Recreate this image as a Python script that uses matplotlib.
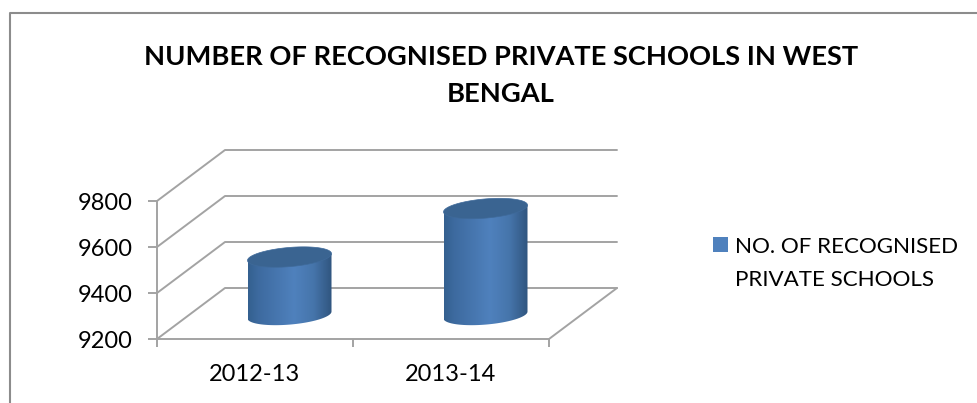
import numpy as np
import matplotlib
matplotlib.use("Agg")
import matplotlib.pyplot as plt
from matplotlib.colors import LinearSegmentedColormap
from matplotlib.legend_handler import HandlerPatch
from matplotlib.lines import Line2D
from matplotlib.patches import Patch, Polygon, Rectangle

categories = ["2012-13", "2013-14"]
school_counts = [9452, 9663]
y_ticks = [9200, 9400, 9600, 9800]
series_name = "NO. OF RECOGNISED\nPRIVATE SCHOOLS"
title = "NUMBER OF RECOGNISED PRIVATE SCHOOLS IN WEST\nBENGAL"

W, H = 977, 403
plt.rcParams["font.family"] = ["Lato", "DejaVu Sans"]
fig = plt.figure(figsize=(W / 100, H / 100), dpi=100, facecolor="white")

# Front plane of the 3D box, in pixels
left, right, bottom, top = 157, 549, 339, 201
ax = fig.add_axes([left / W, 1 - bottom / H, (right - left) / W, (bottom - top) / H])
ax.set_xlim(-0.5, 1.5)
ax.set_ylim(9200, 9800)
ax.patch.set_alpha(0)

PX_X = (right - left) / 2
PX_Y = (bottom - top) / 600
DEPTH_X, DEPTH_Y = 68, 51
GRID = "#a3a3a3"
LW = 1.4


def project(x, v, depth=0.0, px=0.0, py=0.0):
    """Map a category/value position at a box depth to data coordinates."""
    return (x + (depth * DEPTH_X + px) / PX_X, v + (depth * DEPTH_Y + py) / PX_Y)


def box_line(x, v, d):
    xs, ys = zip(*[project(a, b, c) for a, b, c in zip(x, v, d)])
    ax.plot(xs, ys, color=GRID, lw=LW, clip_on=False, zorder=1, solid_capstyle="round")


# Back wall gridlines, side wall diagonals and the floor edge
for v in y_ticks:
    box_line([-0.5, -0.5, 1.5], [v, v, v], [0, 1, 1])
box_line([1.5, 1.5], [9200, 9200], [0, 1])

# Axis spines and ticks
for side in ("top", "right"):
    ax.spines[side].set_visible(False)
for side in ("left", "bottom"):
    ax.spines[side].set_color(GRID)
    ax.spines[side].set_linewidth(LW)
ax.set_yticks(y_ticks)
ax.set_xticks([-0.5, 0.5, 1.5], labels=[])
ax.set_xticks([0, 1], labels=categories, minor=True)
ax.tick_params(axis="y", length=6.5, width=LW, color=GRID, pad=11, labelsize=17, labelcolor="black")
ax.tick_params(axis="x", which="major", length=6, width=LW, color=GRID)
ax.tick_params(axis="x", which="minor", length=0, pad=18, labelsize=17, labelcolor="black")

# Cylinders, shaded across their width
side_cmap = LinearSegmentedColormap.from_list(
    "side", [(0, "#34608f"), (0.12, "#3d6a9f"), (0.55, "#4f81bd"), (0.78, "#4675ab"), (1, "#30557f")]
)
RX, RY, TILT = 42, 9.6, 3.4
t = np.linspace(0, 2 * np.pi, 121)
ring_x = RX * np.cos(t)
ring_y = RY * np.sin(t) + TILT * np.cos(t)
for i, value in enumerate(school_counts):
    base = project(i, 9200, 0.5, 0.5, -1.5)
    head = project(i, value, 0.5, 0.5, -1.5)
    lower = t[(t >= np.pi)]
    lx = RX * np.cos(lower)
    ly = RY * np.sin(lower) + TILT * np.cos(lower)
    body = np.vstack([
        [[head[0] - RX / PX_X, head[1] - TILT / PX_Y]],
        np.column_stack([base[0] + lx / PX_X, base[1] + ly / PX_Y]),
        [[head[0] + RX / PX_X, head[1] + TILT / PX_Y]],
    ])
    shape = Polygon(body, closed=True, facecolor="none", edgecolor="none", transform=ax.transData)
    ax.add_patch(shape)
    ramp = np.linspace(0, 1, 256).reshape(1, -1)
    im = ax.imshow(
        ramp, cmap=side_cmap, aspect="auto", zorder=3,
        extent=[head[0] - RX / PX_X, head[0] + RX / PX_X,
                base[1] - (RY + 4) / PX_Y, head[1] + (RY + 4) / PX_Y],
    )
    im.set_clip_box(fig.bbox)
    im.set_clip_path(shape)
    ax.add_patch(Polygon(
        np.column_stack([head[0] + ring_x / PX_X, head[1] + ring_y / PX_Y]),
        closed=True, facecolor="#3a6491", edgecolor="#3f6a9a", lw=0.5, zorder=4, clip_on=False,
    ))
ax.set_xlim(-0.5, 1.5)
ax.set_ylim(9200, 9800)

# Chart frame: only the top and left edges fall inside the canvas
frame = "#8c8c8c"
fig.add_artist(Line2D([9.5 / W, 9.5 / W, 1], [0, 1 - 13 / H, 1 - 13 / H], color=frame, lw=1.5))

fig.text(501 / W, 1 - 75.5 / H, title, ha="center", va="center", fontsize=19.6,
         fontweight="bold", linespacing=1.68, color="black")


def first_line_swatch(legend, orig_handle, xdescent, ydescent, width, height, fontsize):
    # Lift the swatch from the last text line up to the first one
    return Rectangle((-xdescent, -ydescent + 13.7), width, height)


legend = fig.legend(
    handles=[Patch(facecolor="#4f81bd", edgecolor="none")], labels=[series_name],
    loc="upper left", bbox_to_anchor=(713 / W, 1 - 237 / H), frameon=False,
    fontsize=16.1, handlelength=0.68, handleheight=0.68, handletextpad=0.31,
    labelspacing=0, borderpad=0, borderaxespad=0,
    handler_map={Patch: HandlerPatch(patch_func=first_line_swatch)},
)
for text in legend.get_texts():
    text.set_linespacing(1.8)

fig.savefig("out.png", dpi=100, facecolor="white")
